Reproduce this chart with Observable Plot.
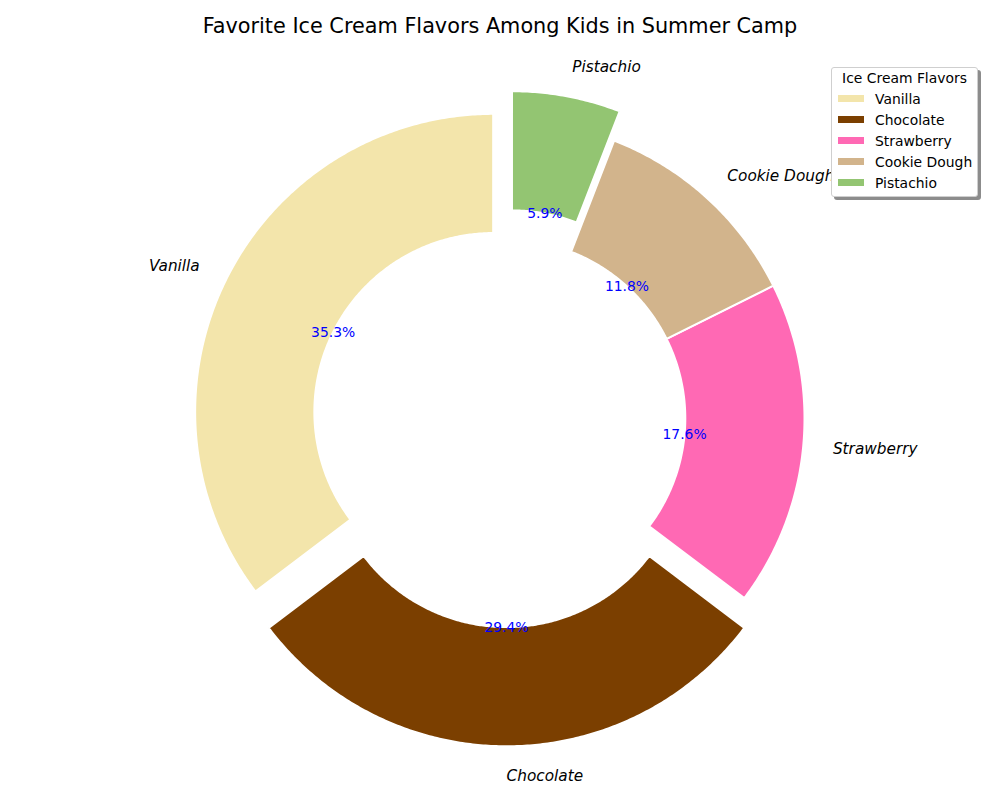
<!DOCTYPE html>
<html>
<head>
<meta charset="utf-8">
<script src="https://cdn.jsdelivr.net/npm/d3@7"></script>
<script src="https://cdn.jsdelivr.net/npm/@observablehq/plot@0.6"></script>
<style>
  body { margin: 0; background: #fff; font-family: "DejaVu Sans", sans-serif; }
  #wrap { position: relative; width: 1000px; height: 800px; overflow: hidden; }
  #title { height: 48px; line-height: 52px; text-align: center; font-size: 20.8px; color: #000; white-space: nowrap; }
  #legend { position: absolute; left: 831px; top: 67px; width: 145px; height: 128px;
            border: 1px solid #cfcfcf; border-radius: 3px; background: #fff;
            box-shadow: 3px 3px 0 rgba(0,0,0,0.45); font-size: 13.9px; color: #000; }
  #legend .lt { position: absolute; left: 0; width: 100%; text-align: center; top: 1px; line-height: 18px; }
  #legend .row { position: absolute; left: 0; height: 18px; line-height: 18px; width: 100%; }
  #legend .sw { position: absolute; left: 6px; top: 5px; width: 26px; height: 7px; }
  #legend .lb { position: absolute; left: 43px; top: 0; white-space: nowrap; }
  svg { display: block; }
</style>
</head>
<body>
<div id="wrap">
  <div id="title"></div>
  <div id="chart"></div>
  <div id="legend"></div>
</div>
<script>
const titleText = "Favorite Ice Cream Flavors Among Kids in Summer Camp";
const legendTitle = "Ice Cream Flavors";
const flavors = ["Vanilla", "Chocolate", "Strawberry", "Cookie Dough", "Pistachio"];
const counts = [30, 25, 15, 10, 5];
const colors = ["#F3E5AB", "#7B3F00", "#FF69B4", "#D2B48C", "#93C572"];
const explode = [0.05, 0.1, 0, 0, 0.1];

document.getElementById("title").textContent = titleText;

const total = d3.sum(counts);
const innerR = 0.6, outerR = 1, pctDist = 0.6, labelDist = 1.1;
const rad = a => a * Math.PI / 180;

const poly = [], pcts = [], labels = [];
let cum = 0;
flavors.forEach((f, i) => {
  const a0 = 90 + cum / total * 360;
  cum += counts[i];
  const a1 = 90 + cum / total * 360;
  const mid = (a0 + a1) / 2;
  const ox = explode[i] * Math.cos(rad(mid)), oy = explode[i] * Math.sin(rad(mid));
  const n = Math.max(8, Math.ceil((a1 - a0) * 2));
  const pts = [];
  for (let k = 0; k <= n; k++) {
    const a = rad(a0 + (a1 - a0) * k / n);
    pts.push({flavor: f, x: ox + outerR * Math.cos(a), y: oy + outerR * Math.sin(a)});
  }
  for (let k = n; k >= 0; k--) {
    const a = rad(a0 + (a1 - a0) * k / n);
    pts.push({flavor: f, x: ox + innerR * Math.cos(a), y: oy + innerR * Math.sin(a)});
  }
  pts.push({...pts[0]});
  poly.push(...pts);
  pcts.push({flavor: f, x: ox + pctDist * Math.cos(rad(mid)), y: oy + pctDist * Math.sin(rad(mid)),
             text: (counts[i] / total * 100).toFixed(1) + "%"});
  const c = Math.cos(rad(mid));
  labels.push({flavor: f, x: ox + labelDist * c, y: oy + labelDist * Math.sin(rad(mid)),
               anchor: c > -1e-6 ? "start" : "end"});
});

const W = 1000, H = 752, px = 298, cx = 506, cy = 370;
const chart = Plot.plot({
  width: W, height: H,
  margin: 0,
  style: {fontFamily: "DejaVu Sans", background: "#fff"},
  x: {domain: [-cx / px, (W - cx) / px], axis: null},
  y: {domain: [-(H - cy) / px, cy / px], axis: null},
  color: {domain: flavors, range: colors},
  marks: [
    Plot.line(poly, {x: "x", y: "y", z: "flavor", fill: "flavor", stroke: "white", strokeWidth: 2,
                     strokeLinejoin: "miter", strokeMiterlimit: 10, strokeLinecap: "butt", curve: "linear"}),
    Plot.text(pcts, {x: "x", y: "y", text: "text", fill: "blue", fontSize: 13.9}),
    Plot.text(labels.filter(d => d.anchor === "start"), {x: "x", y: "y", text: "flavor", textAnchor: "start",
              fontStyle: "italic", fontSize: 15.3, fill: "black"}),
    Plot.text(labels.filter(d => d.anchor === "end"), {x: "x", y: "y", text: "flavor", textAnchor: "end",
              fontStyle: "italic", fontSize: 15.3, fill: "black"})
  ]
});
document.getElementById("chart").appendChild(chart);

const lg = document.getElementById("legend");
const lt = document.createElement("div");
lt.className = "lt"; lt.textContent = legendTitle; lg.appendChild(lt);
flavors.forEach((f, i) => {
  const row = document.createElement("div");
  row.className = "row";
  row.style.top = (22 + i * 21) + "px";
  const sw = document.createElement("div");
  sw.className = "sw"; sw.style.background = colors[i];
  const lb = document.createElement("div");
  lb.className = "lb"; lb.textContent = f;
  row.appendChild(sw); row.appendChild(lb);
  lg.appendChild(row);
});
</script>
</body>
</html>
